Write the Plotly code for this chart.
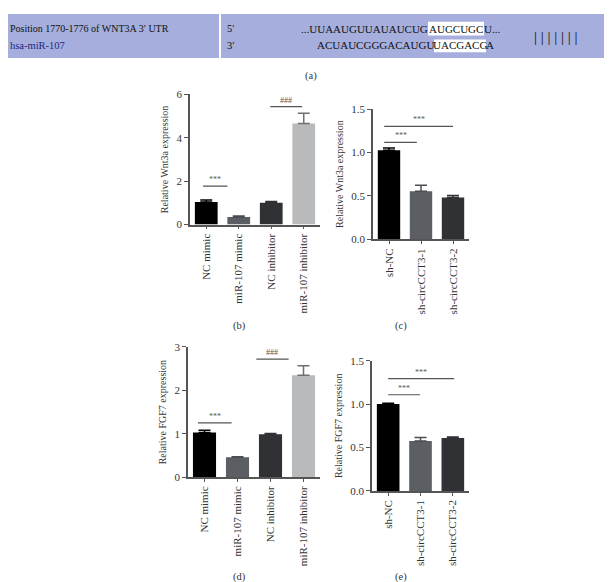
import plotly.graph_objects as go

W, H = 612, 582
def px(x): return x / W
def py(y): return 1 - y / H

FONT = "Liberation Serif"

# ---- data ----
cats_mir = ["NC mimic", "miR-107 mimic", "NC inhibitor", "miR-107 inhibitor"]
cats_sh = ["sh-NC", "sh-circCCT3-1", "sh-circCCT3-2"]

wnt3a_mir = [1.04, 0.35, 1.00, 4.66]
wnt3a_mir_err = [0.09, 0.05, 0.06, 0.47]
wnt3a_sh = [1.026, 0.552, 0.48]
wnt3a_sh_err = [0.025, 0.07, 0.025]

fgf7_mir = [1.03, 0.46, 0.99, 2.35]
fgf7_mir_err = [0.05, 0.01, 0.015, 0.22]
fgf7_sh = [1.0, 0.575, 0.61]
fgf7_sh_err = [0.01, 0.04, 0.012]

colors_mir = ["#000000", "#5b5e63", "#2f3134", "#b9babb"]
err_mir = ["#000000", "#4a4d52", "#2f3134", "#6e6f70"]
colors_sh = ["#000000", "#5b5e63", "#2f3134"]
err_sh = ["#000000", "#4a4d52", "#2f3134"]

fig = go.Figure()

def add_bars(cats, vals, errs, cols, ecols, xa, ya):
    for c, v, e, col, ecol in zip(cats, vals, errs, cols, ecols):
        fig.add_trace(go.Bar(
            x=[c], y=[v], width=0.7, marker=dict(color=col, line=dict(width=0)),
            error_y=dict(type="data", array=[e], arrayminus=[0], symmetric=False,
                         color=ecol, thickness=1.5, width=6),
            xaxis=xa, yaxis=ya, showlegend=False))

add_bars(cats_mir, wnt3a_mir, wnt3a_mir_err, colors_mir, err_mir, "x", "y")
add_bars(cats_sh, wnt3a_sh, wnt3a_sh_err, colors_sh, err_sh, "x2", "y2")
add_bars(cats_mir, fgf7_mir, fgf7_mir_err, colors_mir, err_mir, "x3", "y3")
add_bars(cats_sh, fgf7_sh, fgf7_sh_err, colors_sh, err_sh, "x4", "y4")

axis_common = dict(showline=True, linecolor="#555555", linewidth=1.5, ticks="outside",
                   tickcolor="#555555", tickwidth=1.2, ticklen=4, showgrid=False,
                   zeroline=False, tickfont=dict(family=FONT, size=11, color="#333333"))

def xax(domain, cats, anchor):
    d = dict(axis_common)
    d.update(domain=domain, type="category", categoryorder="array", categoryarray=cats,
             range=[-0.5, len(cats) - 0.5], tickangle=-90, anchor=anchor, ticklen=3)
    return d

def yax(domain, rng, dtick, fmt, title, anchor):
    d = dict(axis_common)
    d.update(domain=domain, range=rng, dtick=dtick, tickformat=fmt, anchor=anchor,
             title=dict(text=title, font=dict(family=FONT, size=10, color="#333333"), standoff=6))
    return d

fig.update_layout(
    width=W, height=H, margin=dict(l=0, r=0, t=0, b=0),
    paper_bgcolor="white", plot_bgcolor="white", barmode="overlay",
    xaxis=xax([px(182), px(312)], cats_mir, "y"),
    yaxis=yax([py(215), py(82)], [0, 6], 2, "d", "Relative Wnt3a expression", "x"),
    xaxis2=xax([px(365), px(461)], cats_sh, "y2"),
    yaxis2=yax([py(230), py(97)], [0, 1.5], 0.5, ".1f", "Relative Wnt3a expression", "x2"),
    xaxis3=xax([px(180), px(312)], cats_mir, "y3"),
    yaxis3=yax([py(473), py(340)], [0, 3], 1, "d", "Relative FGF7 expression", "x3"),
    xaxis4=xax([px(364), px(461)], cats_sh, "y4"),
    yaxis4=yax([py(487), py(354)], [0, 1.5], 0.5, ".1f", "Relative FGF7 expression", "x4"),
)

shapes = []
annos = []

def sig(xa, ya, x0, x1, y, txt):
    shapes.append(dict(type="line", xref=xa, yref=ya, x0=x0, x1=x1, y0=y, y1=y,
                       line=dict(color="#555555", width=1.2)))
    annos.append(dict(xref=xa, yref=ya, x=(x0 + x1) / 2, y=y, text=txt, showarrow=False,
                      yanchor="bottom", yshift=0,
                      font=dict(family=FONT, size=8, color="#555555")))

sig("x", "y", -0.1, 0.65, 1.77, "***")
sig("x", "y", 1.97, 2.95, 5.43, "###")
sig("x2", "y2", -0.15, 0.87, 1.116, "***")
sig("x2", "y2", -0.15, 2.0, 1.30, "***")
sig("x3", "y3", -0.2, 0.82, 1.25, "***")
sig("x3", "y3", 1.57, 2.55, 2.72, "###")
sig("x4", "y4", -0.0, 0.99, 1.108, "***")
sig("x4", "y4", -0.0, 2.04, 1.293, "***")

# ---- header ----
HDR = "#a5aedc"
shapes.append(dict(type="rect", xref="paper", yref="paper", x0=0, x1=1, y0=py(45), y1=1,
                   fillcolor=HDR, line=dict(width=0), layer="below"))
shapes.append(dict(type="line", xref="paper", yref="paper", x0=px(212), x1=px(212), y0=py(45), y1=1,
                   line=dict(color="white", width=2)))
shapes.append(dict(type="rect", xref="paper", yref="paper", x0=px(420), x1=px(476), y0=py(22), y1=py(8),
                   fillcolor="white", line=dict(width=0), layer="below"))
shapes.append(dict(type="rect", xref="paper", yref="paper", x0=px(426), x1=px(478), y0=py(39), y1=py(26),
                   fillcolor="white", line=dict(width=0), layer="below"))

def txt(x, y, s, size=10, color="#111111", xanchor="left"):
    annos.append(dict(xref="paper", yref="paper", x=px(x), y=py(y), text=s, showarrow=False,
                      xanchor=xanchor, yanchor="middle", xshift=0, borderpad=0,
                      font=dict(family=FONT, size=size, color=color)))

txt(1, 15, "Position 1770-1776 of WNT3A 3\u2032 UTR", 10)
txt(1, 32, "hsa-miR-107", 10.5, "#262680")
txt(218, 15, "5\u2032", 10.5)
txt(218, 32, "3\u2032", 10.5)
txt(421, 15, "...UUAAUGUUAUAUCUG", 11, xanchor="right")
txt(448, 15, "AUGCUGC", 11, xanchor="center")
txt(475, 15, "U...", 11)
txt(427, 32, "ACUAUCGGGACAUGU", 11, xanchor="right")
txt(452, 32, "UACGACG", 11, xanchor="center")
txt(477, 32, "A", 11)
txt(548, 23, "| | | | | | |", 15, xanchor="center")

txt(303, 63, "(a)", 10.5, "#333333", "center")
txt(231, 319, "(b)", 10.5, "#333333", "center")
txt(393, 319, "(c)", 10.5, "#333333", "center")
txt(231, 575, "(d)", 10.5, "#333333", "center")
txt(393, 575, "(e)", 10.5, "#333333", "center")

fig.update_layout(shapes=shapes, annotations=annos)
fig.write_html("out.html")
